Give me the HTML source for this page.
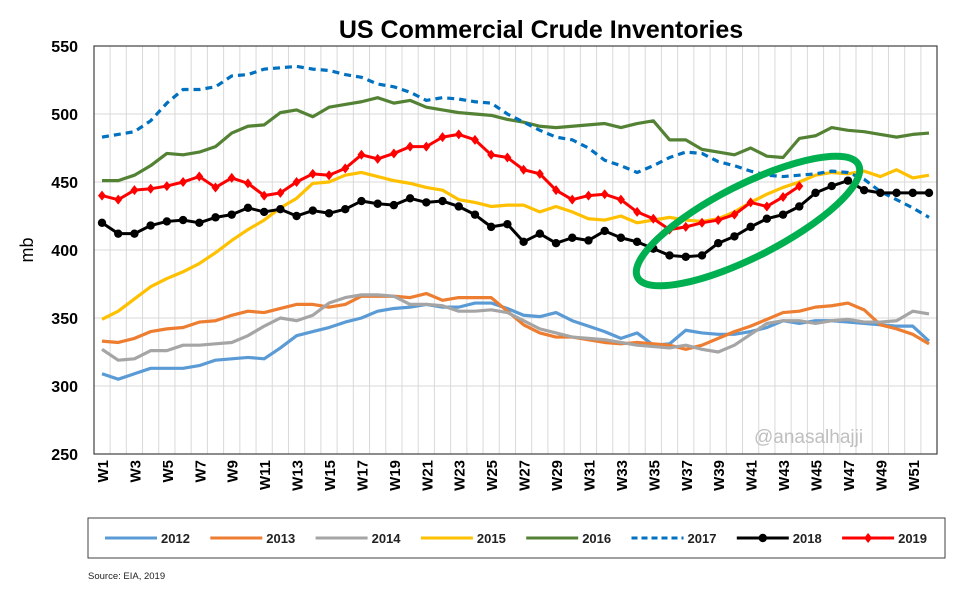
<!DOCTYPE html>
<html><head><meta charset="utf-8"><style>
body{margin:0;background:#fff;}
svg{display:block;font-family:"Liberation Sans",sans-serif;}
</style></head><body>
<svg id="c" width="964" height="589"></svg>
<script>
const weeks=[];for(let i=1;i<=52;i++)weeks.push('W'+i);
const yTicks=[250,300,350,400,450,500,550];
const s2012=[309,305,309,313,313,313,315,319,320,321,320,328,337,340,343,347,350,355,357,358,360,358,358,361,361,357,352,351,354,348,344,340,335,339,330,331,341,339,338,338,340,343,348,346,348,348,347,346,345,344,344,333];
const s2013=[333,332,335,340,342,343,347,348,352,355,354,357,360,360,358,360,366,366,366,365,368,363,365,365,365,355,345,339,336,336,334,332,331,332,331,330,327,330,335,340,344,349,354,355,358,359,361,356,345,342,338,331];
const s2014=[327,319,320,326,326,330,330,331,332,337,344,350,348,352,361,365,367,367,366,360,360,359,355,355,356,354,348,342,339,336,335,334,332,330,329,328,330,327,325,330,338,346,348,348,346,348,349,347,347,348,355,353];
const s2015=[349,355,364,373,379,384,390,398,407,415,422,431,438,449,450,455,457,454,451,449,446,444,437,435,432,433,433,428,432,428,423,422,425,420,422,424,422,421,423,428,435,441,446,450,455,457,456,458,454,459,453,455];
const s2016=[451,451,455,462,471,470,472,476,486,491,492,501,503,498,505,507,509,512,508,510,505,503,501,500,499,496,494,491,490,491,492,493,490,493,495,481,481,474,472,470,475,469,468,482,484,490,488,487,485,483,485,486];
const s2017=[483,485,487,495,508,518,518,520,528,529,533,534,535,533,532,529,527,522,520,516,510,512,511,509,508,500,494,488,483,481,475,466,462,457,462,468,472,471,465,462,458,455,454,455,456,458,457,452,443,437,431,424];
const s2018=[420,412,412,418,421,422,420,424,426,431,428,430,425,429,427,430,436,434,433,438,435,436,432,426,417,419,406,412,405,409,407,414,409,406,401,396,395,396,405,410,417,423,426,432,442,447,451,444,442,442,442,442];
const s2019=[440,437,444,445,447,450,454,446,453,449,440,442,450,456,455,460,470,467,471,476,476,483,485,481,470,468,459,456,444,437,440,441,437,428,423,415,417,420,422,426,435,432,439,447];
const series=[
 {name:'2012',data:s2012,color:'#5B9BD5'},
 {name:'2013',data:s2013,color:'#ED7D31'},
 {name:'2014',data:s2014,color:'#A5A5A5'},
 {name:'2015',data:s2015,color:'#FFC000'},
 {name:'2016',data:s2016,color:'#548235'},
 {name:'2017',data:s2017,color:'#0070C0',dash:'7,5'},
 {name:'2018',data:s2018,color:'#000000',marker:'circle'},
 {name:'2019',data:s2019,color:'#FF0000',marker:'diamond'}];
const L=94,R=937,T=46,B=454,X0=102,X1=929;
const x=i=>X0+i*(X1-X0)/51;
const y=v=>B-(v-250)*(B-T)/300;
const svg=document.getElementById('c');const NS='http://www.w3.org/2000/svg';
function el(t,a,p){const e=document.createElementNS(NS,t);for(const k in a)e.setAttribute(k,a[k]);(p||svg).appendChild(e);return e;}
for(let i=0;i<52;i++){const g=el('line',{x1:x(i)+8.1,x2:x(i)+8.1,y1:T,y2:B,stroke:'#d9d9d9','stroke-width':1});

}
yTicks.forEach(t=>{const g=el('line',{x1:L,x2:R,y1:y(t),y2:y(t),stroke:'#d9d9d9','stroke-width':1});


const tx=el('text',{x:78,y:y(t)+6,'text-anchor':'end','font-size':16,'font-weight':'bold',fill:'#000'});tx.textContent=t;

});
const fr=el('rect',{x:L,y:T,width:R-L,height:B-T,fill:'none',stroke:'#404040','stroke-width':1.2});


for(let i=0;i<52;i+=2){const tx=el('text',{transform:`translate(${x(i)+6},${460}) rotate(-90)`,'text-anchor':'end','font-size':15,'font-weight':'bold',fill:'#000'});tx.textContent=weeks[i];

}
const wm=el('text',{x:754,y:443,'font-size':19,fill:'#bfbfbf'});wm.textContent='@anasalhajji';


function marker(g,cx,cy,s,c){if(s.marker==='circle'){el('circle',{cx,cy,r:4.2,fill:c},g);}else if(s.marker==='diamond'){el('path',{d:`M${cx},${cy-5}L${cx+4},${cy}L${cx},${cy+5}L${cx-4},${cy}Z`,fill:c},g);}}
series.forEach(s=>{const g=el('g',{});


const pts=s.data.map((v,i)=>x(i)+','+y(v)).join(' ');
const a={points:pts,fill:'none',stroke:s.color,'stroke-width':s.marker?3:3.2,'stroke-linejoin':'round'};if(s.dash)a['stroke-dasharray']=s.dash;
el('polyline',a,g);
if(s.marker)s.data.forEach((v,i)=>marker(g,x(i),y(v),s,s.color));});
const ell=el('ellipse',{cx:748,cy:221,rx:124,ry:36,fill:'none',stroke:'#00B050','stroke-width':7,transform:'rotate(-27 748 221)'});


const ti=el('text',{x:541,y:38,'text-anchor':'middle','font-size':25,'font-weight':'bold',fill:'#000'});ti.textContent='US Commercial Crude Inventories';


const yl=el('text',{transform:'translate(33,250) rotate(-90)','text-anchor':'middle','font-size':18,fill:'#000'});yl.textContent='mb';


const lg=el('g',{});


el('rect',{x:88,y:518,width:857,height:40,fill:'#fff',stroke:'#404040','stroke-width':1},lg);
series.forEach((s,i)=>{const g=el('g',{},lg);


const sx=105+i*105.3;
const a={x1:sx,x2:sx+52,y1:538,y2:538,stroke:s.color,'stroke-width':3};if(s.dash)a['stroke-dasharray']='6,4';el('line',a,g);
if(s.marker)marker(g,sx+26,538,s,s.color);
const t=el('text',{x:sx+56,y:543,'font-size':13,'font-weight':'bold',fill:'#222'},g);t.textContent=s.name;});
const src=el('text',{x:88,y:579,'font-size':9.5,fill:'#222'});src.textContent='Source: EIA, 2019';


</script>
</body></html>
